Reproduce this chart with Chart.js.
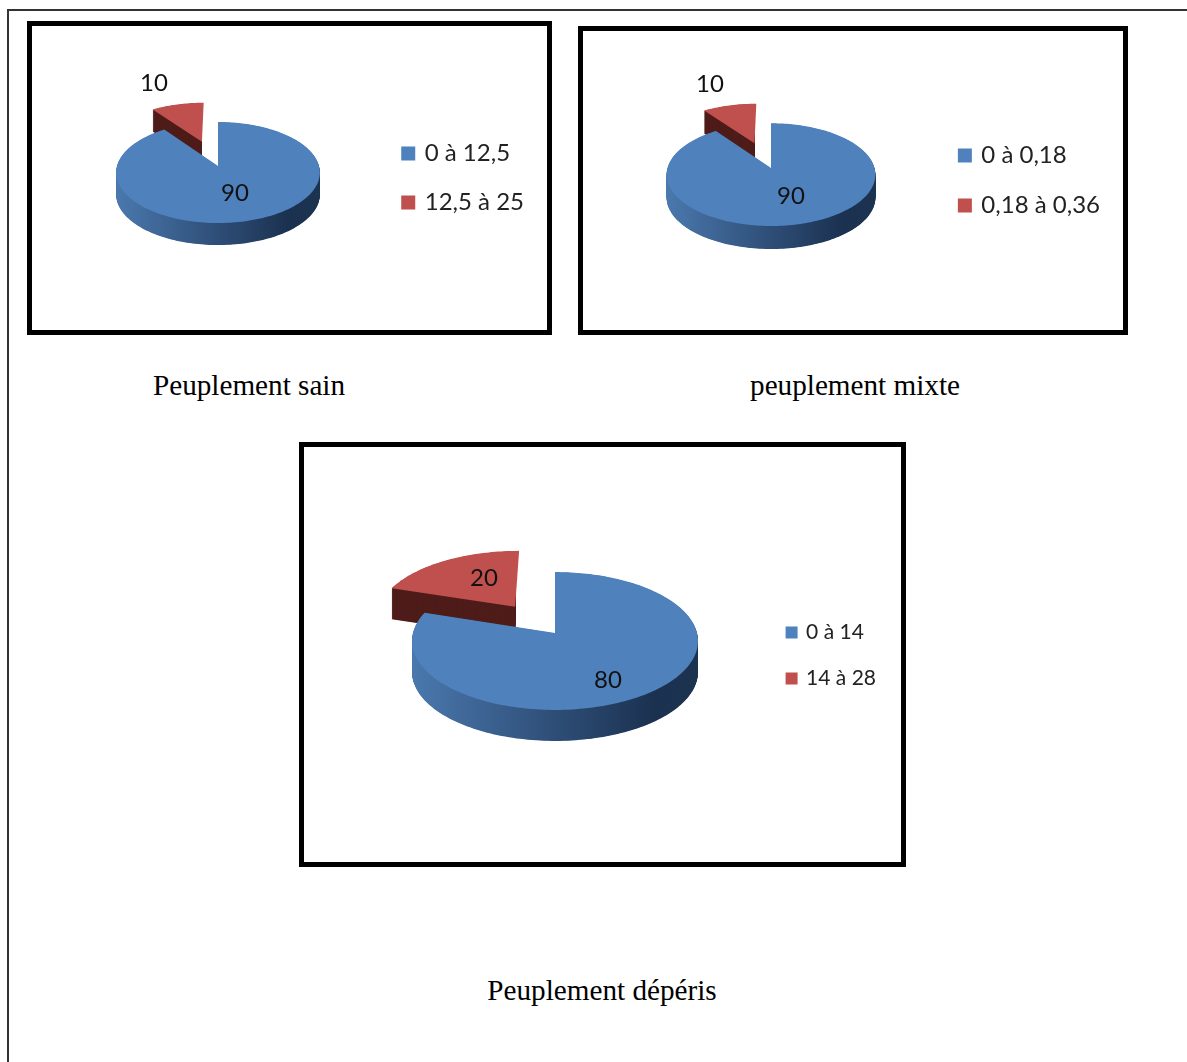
<!DOCTYPE html>
<html lang="fr">
<head>
<meta charset="utf-8">
<title>Peuplements</title>
<script src="https://cdn.jsdelivr.net/npm/chart.js@4"></script>
<style>
    html, body { margin: 0; padding: 0; background: #fff; }
    body { position: relative; width: 1187px; height: 1062px; overflow: hidden; }
    #page { position: absolute; left: 7px; top: 9px; width: 1180px; height: 1053px;
            border-left: 2px solid #333; border-top: 2px solid #333; }
    .frame { position: absolute; border: 5px solid #000; line-height: 0; }
    .caption { position: absolute; font: 29.2px "Liberation Serif", serif; color: #000;
               white-space: nowrap; transform: translate(-50%, -50%); }
</style>
</head>
<body>
<div id="page"></div>

<div class="frame" style="left:27px;top:21px"><canvas id="sain" width="515" height="304"></canvas></div>
<div class="frame" style="left:578px;top:26px"><canvas id="mixte" width="540" height="299"></canvas></div>
<div class="frame" style="left:299px;top:442px"><canvas id="deperis" width="597" height="415"></canvas></div>

<div class="caption" style="left:249px;top:385px">Peuplement sain</div>
<div class="caption" style="left:855px;top:385px">peuplement mixte</div>
<div class="caption" style="left:602px;top:990px">Peuplement dépéris</div>

<script>
const saincats = ['0 à 12,5', '12,5 à 25'];
const sainvalues = [90, 10];
const mixtecats = ['0 à 0,18', '0,18 à 0,36'];
const mixtevalues = [90, 10];
const deperiscats = ['0 à 14', '14 à 28'];
const deperisvalues = [80, 20];

const blue = '#4f81bd';
const red = '#c0504d';

// projects a point of the pie disc (u to the right, v towards the viewer) onto the canvas
function project(g, u, v) {
    const w = 1 - g.persp * v;
    return [g.cx + g.rx * u / w, g.cy + g.ry * v / w];
}

function sliceOrigin(arc, shift) {
    const mid = (arc.startAngle + arc.endAngle) / 2 + Math.PI / 2;
    return [Math.sin(mid) * shift, -Math.cos(mid) * shift];
}

function slicePath(ctx, g, arc, shift, dropY) {
    const a0 = arc.startAngle + Math.PI / 2;
    const a1 = arc.endAngle + Math.PI / 2;
    const [ou, ov] = sliceOrigin(arc, shift);
    const steps = Math.ceil((a1 - a0) * 40);
    ctx.beginPath();
    let p = project(g, ou, ov);
    ctx.moveTo(p[0], p[1] + dropY);
    for (let i = 0; i <= steps; i++) {
        const a = a0 + (a1 - a0) * i / steps;
        p = project(g, ou + Math.sin(a), ov - Math.cos(a));
        ctx.lineTo(p[0], p[1] + dropY);
    }
    ctx.closePath();
}

// tilted pie: the arcs laid out by the pie controller are redrawn with a thick edge
const pie3d = {
    id: 'pie3d',
    beforeDatasetsDraw(chart, args, opts) {
        const ctx = chart.ctx;
        const arcs = chart.getDatasetMeta(0).data;
        const values = chart.data.datasets[0].data;
        const wall = ctx.createLinearGradient(opts.cx - opts.rx, 0, opts.cx + opts.rx, 0);
        wall.addColorStop(0, '#4a78ad');
        wall.addColorStop(0.45, '#31527c');
        wall.addColorStop(0.85, '#1b3150');
        wall.addColorStop(1, '#1c3350');
        const walls = [wall, '#4f1d1a'];
        const faces = [blue, red];

        ctx.save();
        // the detached slice goes first, it sits behind the big one
        [1, 0].forEach(i => {
            const shift = i === 1 ? opts.explode : 0;
            ctx.save();
            if (i === 1) {
                // only the cut facing the viewer shows, nothing right of the tip
                const tip = sliceOrigin(arcs[i], shift);
                ctx.beginPath();
                ctx.rect(0, 0, project(opts, tip[0], tip[1])[0], chart.height);
                ctx.clip();
            }
            ctx.fillStyle = walls[i];
            for (let d = opts.depth; d > 0; d -= 0.5) {
                slicePath(ctx, opts, arcs[i], shift, d);
                ctx.fill();
            }
            ctx.restore();
            ctx.fillStyle = faces[i];
            slicePath(ctx, opts, arcs[i], shift, 0);
            ctx.fill();
        });

        ctx.fillStyle = '#111';
        ctx.font = opts.labelFont;
        ctx.textAlign = 'center';
        ctx.textBaseline = 'middle';
        values.forEach((v, i) => {
            ctx.fillText(String(v), opts.labels[i][0], opts.labels[i][1]);
        });
        ctx.restore();
        return false;
    }
};

function makePie(id, cats, values, geom, legend) {
    new Chart(document.getElementById(id), {
        type: 'pie',
        plugins: [pie3d],
        data: {
            labels: cats,
            datasets: [{
                data: values,
                backgroundColor: [blue, red],
                borderColor: [blue, red],
                borderWidth: legend.stroke
            }]
        },
        options: {
            responsive: false,
            animation: false,
            layout: { padding: { right: legend.right, top: legend.top } },
            plugins: {
                tooltip: { enabled: false },
                legend: {
                    position: 'right',
                    labels: {
                        color: '#222',
                        font: { family: 'Lato', size: legend.size },
                        boxWidth: legend.box,
                        boxHeight: legend.box,
                        padding: legend.padding
                    }
                },
                pie3d: geom
            }
        }
    });
}

makePie('sain', saincats, sainvalues,
    { cx: 186, cy: 140, rx: 101, ry: 49.7, persp: 0.129, depth: 22, explode: 0.55,
      labelFont: '24px Lato', labels: [[203, 167], [122, 57]] },
    { size: 24, box: 9, stroke: 5, padding: 25, right: 13, top: 0 });

makePie('mixte', mixtecats, mixtevalues,
    { cx: 188, cy: 137, rx: 103.5, ry: 50.5, persp: 0.129, depth: 23, explode: 0.55,
      labelFont: '24px Lato', labels: [[208, 165], [127, 53]] },
    { size: 24, box: 9, stroke: 5, padding: 26, right: 13, top: 0 });

makePie('deperis', deperiscats, deperisvalues,
    { cx: 251, cy: 186, rx: 142, ry: 68, persp: 0.116, depth: 31, explode: 0.5,
      labelFont: '24px Lato', labels: [[304, 233], [180, 131]] },
    { size: 21, box: 8, stroke: 4, padding: 25, right: 15, top: 2 });
</script>
</body>
</html>
